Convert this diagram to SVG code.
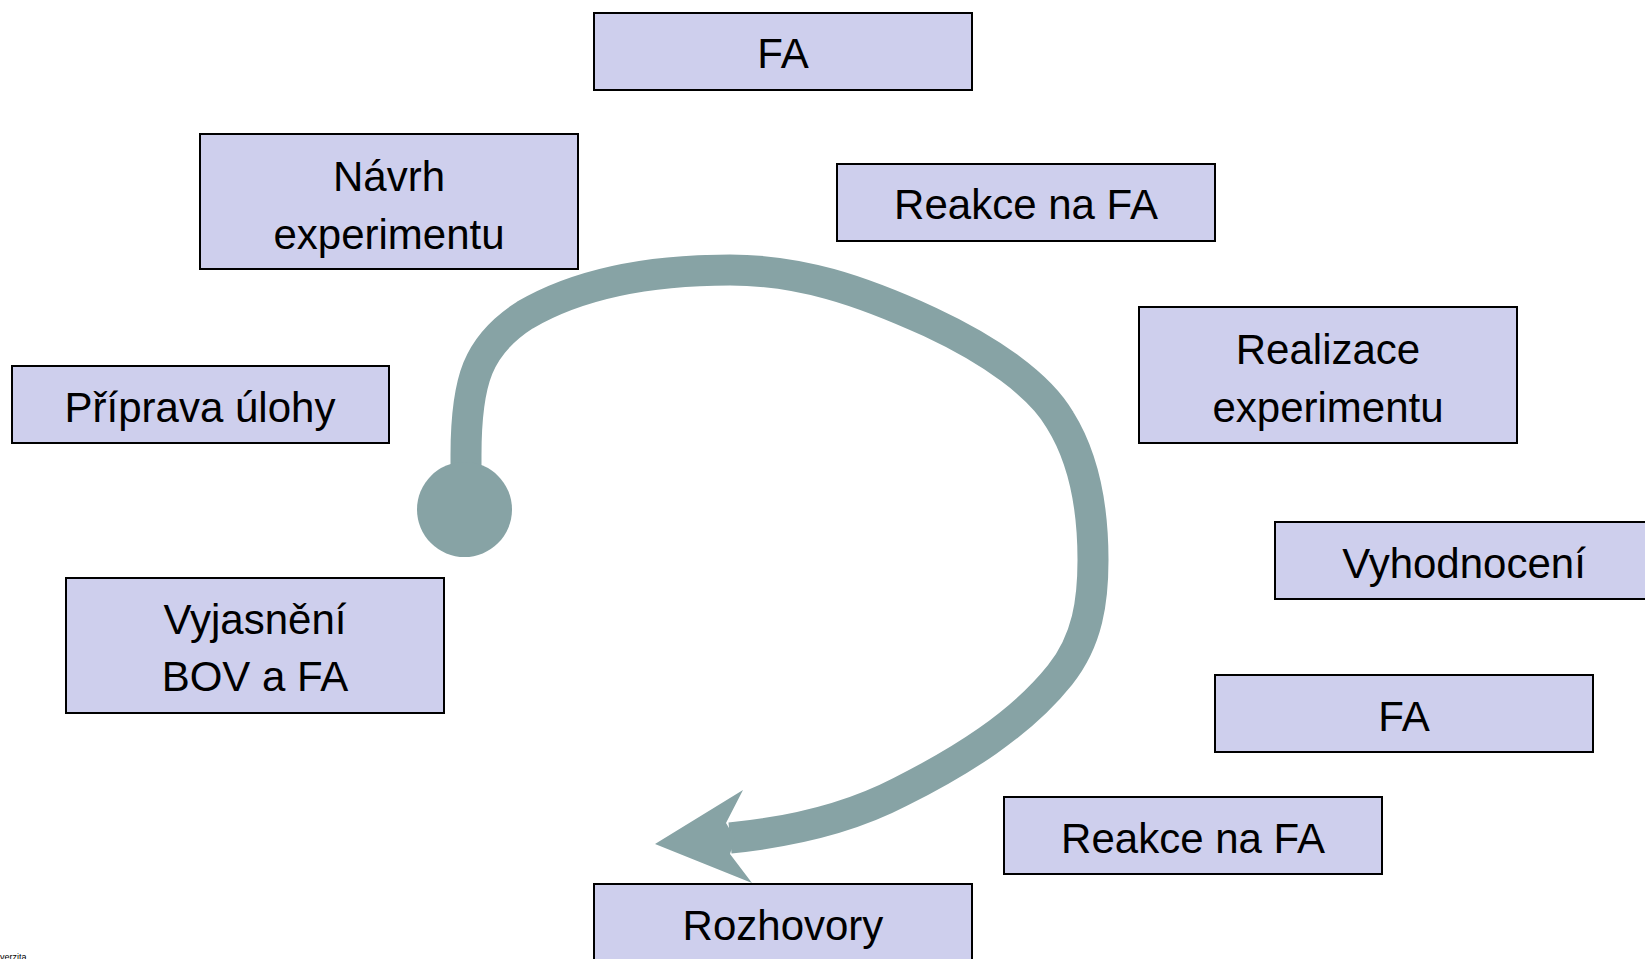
<svg xmlns="http://www.w3.org/2000/svg" width="1645" height="959" viewBox="0 0 1645 959">
<style>
.box rect{fill:#cecfed;stroke:#000;stroke-width:2}
.box text{font-family:"Liberation Sans",Arial,sans-serif;font-size:42px;fill:#000;text-anchor:middle}
.flow{fill:none;stroke:#87a3a5;stroke-width:31}
.head{fill:#87a3a5}
</style>
<rect width="1645" height="959" fill="#fff"/>
<g id="connectors">
<path class="flow" d="M 466 495 L 466 455 C 466 380, 478 345, 525 315 C 585 280, 660 270, 730 270 C 800 270, 860 290, 930 322 C 990 350, 1040 385, 1060 420 C 1085 460, 1093 510, 1093 560 C 1093 600, 1088 640, 1060 675 C 1020 725, 960 762, 900 792 C 850 818, 790 832, 730 838"/>
<circle class="head" cx="464.5" cy="509.5" r="47.5"/>
<polygon class="head" points="655,844 743,790 726,823 735,838 730,854 752,883"/>
</g>
<g id="n-fa-top" class="box"><rect x="594" y="13" width="378" height="77"/><text x="783" y="68">FA</text></g>
<g id="n-navrh" class="box"><rect x="200" y="134" width="378" height="135"/><text x="389" y="191">Návrh</text><text x="389" y="249">experimentu</text></g>
<g id="n-reakce-top" class="box"><rect x="837" y="164" width="378" height="77"/><text x="1026" y="219">Reakce na FA</text></g>
<g id="n-realizace" class="box"><rect x="1139" y="307" width="378" height="136"/><text x="1328" y="364">Realizace</text><text x="1328" y="422">experimentu</text></g>
<g id="n-priprava" class="box"><rect x="12" y="366" width="377" height="77"/><text x="200" y="422">Příprava úlohy</text></g>
<g id="n-vyhodnoceni" class="box"><rect x="1275" y="522" width="378" height="77"/><text x="1464" y="578">Vyhodnocení</text></g>
<g id="n-vyjasneni" class="box"><rect x="66" y="578" width="378" height="135"/><text x="255" y="634">Vyjasnění</text><text x="255" y="691">BOV a FA</text></g>
<g id="n-fa-right" class="box"><rect x="1215" y="675" width="378" height="77"/><text x="1404" y="731">FA</text></g>
<g id="n-reakce-bottom" class="box"><rect x="1004" y="797" width="378" height="77"/><text x="1193" y="853">Reakce na FA</text></g>
<g id="n-rozhovory" class="box"><rect x="594" y="884" width="378" height="90"/><text x="783" y="940">Rozhovory</text></g>
<text x="0" y="960" font-family="Liberation Sans,Arial,sans-serif" font-size="9" fill="#000">verzita</text>
</svg>
